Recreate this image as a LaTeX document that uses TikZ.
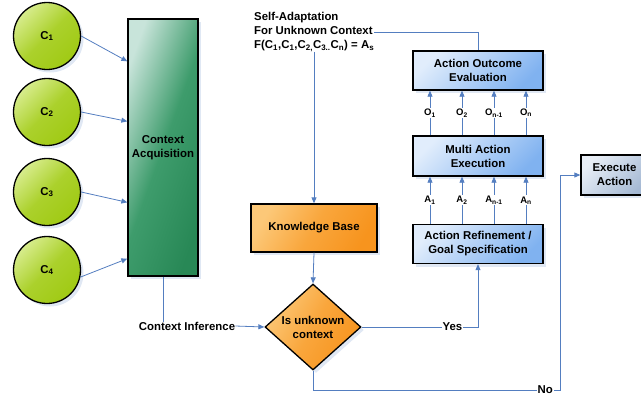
\documentclass[tikz,border=0pt]{standalone}
\usepackage{fontspec}
\setmainfont{Liberation Sans}
\usetikzlibrary{positioning,arrows.meta,shapes.geometric,shadows}

\definecolor{linkblue}{RGB}{84,126,192}
\definecolor{ctxlight}{RGB}{215,236,140}
\definecolor{ctxdark}{RGB}{160,202,20}
\definecolor{acqlight}{RGB}{200,228,218}
\definecolor{acqmid}{RGB}{62,156,108}
\definecolor{acqdark}{RGB}{40,136,86}
\definecolor{kblight}{RGB}{252,200,120}
\definecolor{kbmid}{RGB}{249,166,60}
\definecolor{kbdark}{RGB}{247,148,30}
\definecolor{stagelight}{RGB}{225,237,252}
\definecolor{stagedark}{RGB}{128,178,240}
\definecolor{execlight}{RGB}{232,238,246}
\definecolor{execdark}{RGB}{165,185,212}

\begin{document}
\begin{tikzpicture}[x=1pt,y=-1pt,>={Triangle[length=6pt,width=5pt]},
  font=\bfseries\fontsize{11.4}{14}\selectfont,
  shade/.style={drop shadow={opacity=0.3,shadow xshift=3pt,shadow yshift=-3pt,fill=linkblue!60}},
  ctx/.style={circle,draw=black,line width=1.3pt,minimum size=67pt,inner sep=0pt,left color=ctxlight,right color=ctxdark,middle color=ctxdark!80!ctxlight,shading angle=45,shade},
  acq/.style={rectangle,draw=black,line width=1.3pt,align=center,left color=acqlight,right color=acqdark,middle color=acqmid,shading angle=70,shade},
  kbase/.style={rectangle,draw=black,line width=1.3pt,left color=kblight,right color=kbdark,middle color=kbmid,shading angle=60,shade},
  decision/.style={diamond,draw=black,line width=1.3pt,align=center,inner sep=0pt,left color=kblight,right color=kbdark,middle color=kbmid,shading angle=60,shade},
  stagebox/.style={rectangle,draw=black,line width=1.3pt,align=center,minimum width=130pt,left color=stagelight,right color=stagedark,shading angle=45,shade},
  execbox/.style={rectangle,draw=black,line width=1.3pt,align=center,left color=execlight,right color=execdark,shading angle=45,shade},
  plain/.style={inner sep=0pt},
  lab/.style={fill=white,inner sep=1pt,font=\bfseries\fontsize{9.5}{11}\selectfont},
  link/.style={draw=linkblue,line width=0.8pt}]
  \useasboundingbox (0,0) rectangle (641,400);

  % context sources
  \node[ctx] (c1) at (47,36) {C\textsubscript{1}};
  \node[ctx] (c2) at (47,112) {C\textsubscript{2}};
  \node[ctx] (c3) at (47,192) {C\textsubscript{3}};
  \node[ctx] (c4) at (47,270) {C\textsubscript{4}};
  \node[acq,minimum width=70pt,minimum height=257pt] (ca) at (163,147.5) {Context\\Acquisition};

  % reasoning
  \node[kbase,minimum width=126pt,minimum height=48pt] (kb) at (314,228) {Knowledge Base};
  \node[decision,minimum width=96pt,minimum height=86pt] (dec) at (313,327) {Is unknown\\context};
  \node[plain] (ci) at (187,326) {Context Inference};
  \node[plain,align=left,anchor=west] (sa) at (254,32) {Self-Adaptation\\For Unknown Context\\F(C\textsubscript{1},C\textsubscript{1},C\textsubscript{2,}C\textsubscript{3..}C\textsubscript{n}) = A\textsubscript{s}};

  % actions
  \node[stagebox,minimum height=39pt] (aoe) at (478,70.5) {Action Outcome\\Evaluation};
  \node[stagebox,minimum height=40pt] (mae) at (478,156) {Multi Action\\Execution};
  \node[stagebox,minimum height=39pt] (args) at (478,244) {Action Refinement /\\Goal Specification};
  \node[execbox,minimum width=67pt,minimum height=40pt] (exe) at (614.5,175) {Execute\\Action};
  \coordinate (noturn) at (560,390);

  \draw[->,link] (c1.east) -- ([yshift=-43pt]ca.north west);
  \draw[->,link] (c2.east) -- ([yshift=-103pt]ca.north west);
  \draw[->,link] (c3.east) -- ([yshift=-184pt]ca.north west);
  \draw[->,link] (c4.-12) -- ([yshift=18pt]ca.south west);
  \draw[link] (ca.south) -- (ca.south |- ci.north);
  \draw[->,link] (ci.east) -- (dec.west);
  \draw[link] (sa.east) -| (aoe.north);
  \draw[->,link] (kb.north |- sa.south) -- (kb.north);
  \draw[->,link] (kb.south) -- (dec.north);
  \draw[->,link] (dec.east) -| node[pos=0.39,fill=white,inner sep=1pt] {Yes} (args.south);
  \draw[->,link] (dec.south) |- node[pos=0.97,fill=white,inner sep=1pt] {No} (noturn) |- (exe.west);
  \foreach \dx/\k in {-48/1,-16/2,16/{n-1},48/n} {
    \draw[->,link] ([xshift=\dx pt]mae.north) -- node[lab] {O\textsubscript{\k}} ([xshift=\dx pt]aoe.south);
    \draw[->,link] ([xshift=\dx pt]args.north) -- node[lab] {A\textsubscript{\k}} ([xshift=\dx pt]mae.south);
  }
\end{tikzpicture}
\end{document}
